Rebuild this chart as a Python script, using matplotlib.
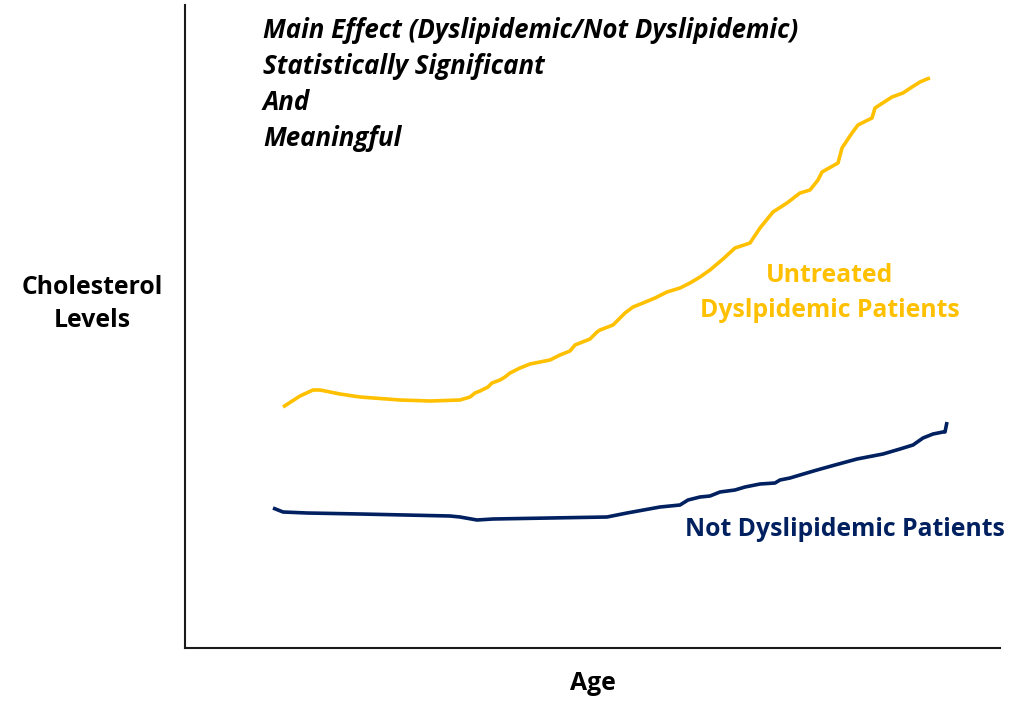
import numpy as np
import matplotlib.pyplot as plt

# values (arbitrary units: age along x, cholesterol along y)
age_dys = [98, 115, 128, 135, 155, 175, 215, 245, 275, 285, 290, 295, 303, 307, 315, 320,
           325, 335, 345, 360, 365, 375, 385, 390, 400, 405, 412, 415, 428, 440, 448,
           458, 470, 482, 495, 505, 515, 525, 538, 550, 565, 575, 588, 602, 615, 625,
           633, 637, 653, 657, 667, 673, 687, 690, 707, 718, 727, 735, 742, 745]
chol_dys = [241, 252, 258, 258, 254, 251, 248, 247, 248, 251, 255, 257, 261, 265, 268, 271,
            275, 280, 284, 287, 288, 293, 297, 303, 307, 309, 316, 318, 323, 335, 341,
            345, 350, 356, 360, 365, 371, 378, 389, 400, 405, 420, 436, 445, 455, 458,
            468, 476, 485, 500, 515, 523, 530, 540, 551, 555, 561, 566, 569, 570]

age_not = [88, 98, 122, 175, 265, 275, 292, 308, 422, 442, 475, 495, 503, 515, 525, 535,
           550, 560, 575, 590, 595, 605, 615, 632, 650, 672, 698, 715, 728, 738, 748,
           758, 760, 762]
chol_not = [140, 136, 135, 134, 132, 131, 128, 129, 131, 135, 141, 143, 148, 151, 152, 156,
            158, 161, 164, 165, 168, 170, 173, 178, 183, 189, 194, 199, 203, 210, 214,
            216, 216, 226]

fig = plt.figure(figsize=(10.24, 7.05), dpi=100)
ax = fig.add_axes([185 / 1024, 57 / 705, 815 / 1024, 643 / 705])
ax.plot(age_dys, chol_dys, color='#FFC000', lw=2.6, solid_capstyle='butt')
ax.plot(age_not, chol_not, color='#002060', lw=2.6, solid_capstyle='butt')
ax.set_xlim(0, 815)
ax.set_ylim(0, 643)
ax.set_xticks([])
ax.set_yticks([])
for s in ['top', 'right']:
    ax.spines[s].set_visible(False)
for s in ['left', 'bottom']:
    ax.spines[s].set_linewidth(1.5)
    ax.spines[s].set_color('#1a1a1a')

font = 'Open Sans'
title_lines = ['Main Effect (Dyslipidemic/Not Dyslipidemic)', 'Statistically Significant',
               'And', 'Meaningful']
for i, t in enumerate(title_lines):
    fig.text(263 / 1024, 1 - (31 + 35.7 * i) / 705, t, fontsize=18.6, fontweight='bold',
             fontstyle='italic', family=font, ha='left', va='center')

fig.text(92 / 1024, 1 - 304 / 705, 'Cholesterol\nLevels', fontsize=17.8, fontweight='bold',
         family=font, ha='center', va='center', linespacing=1.45)
fig.text(593 / 1024, 1 - 683 / 705, 'Age', fontsize=17.8, fontweight='bold', family=font,
         ha='center', va='center')
fig.text(830 / 1024, 1 - 293 / 705, 'Untreated\nDyslpidemic Patients', fontsize=17.8,
         fontweight='bold', family=font, color='#FFC000', ha='center', va='center',
         linespacing=1.52)
fig.text(845 / 1024, 1 - 529 / 705, 'Not Dyslipidemic Patients', fontsize=17.8,
         fontweight='bold', family=font, color='#002060', ha='center', va='center')

fig.savefig('out.png', dpi=100)
